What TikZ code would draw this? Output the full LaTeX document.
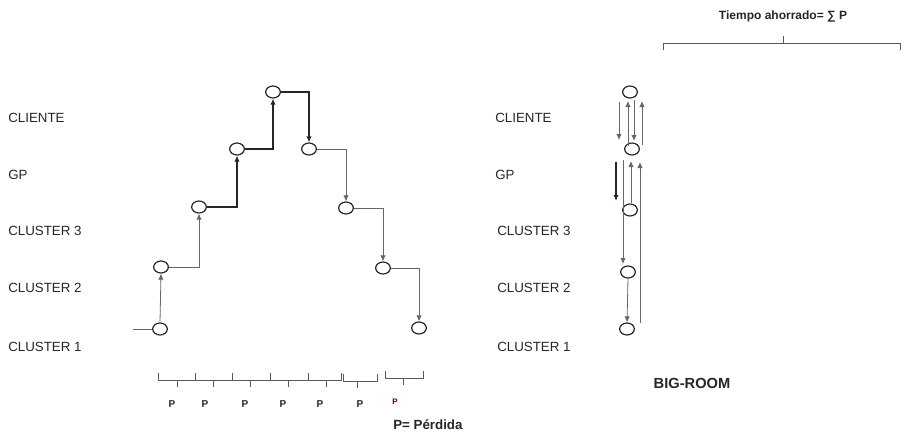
\documentclass[tikz,border=0pt]{standalone}
\usepackage{fontspec}
\setmainfont{Liberation Sans}
\usetikzlibrary{shapes.geometric,arrows.meta}
\begin{document}
\begin{tikzpicture}[x=0.75pt,y=-0.75pt,
  lbl/.style={anchor=west,inner sep=0pt,font=\fontsize{10}{12}\selectfont,text=black!85},
  stage/.style={ellipse,draw=black!85,line width=0.9pt,minimum width=11pt,minimum height=9pt,inner sep=0pt},
  thin/.style={draw=black!60,line width=0.6pt},
  thick/.style={draw=black!85,line width=1.1pt},
  arr/.style={-{Latex[length=4.5pt,width=4pt]}},
  brk/.style={draw=black!65,line width=0.6pt},
  plbl/.style={inner sep=0pt,font=\bfseries\fontsize{7.5}{9}\selectfont,text=black!85},
  bold/.style={inner sep=0pt,font=\bfseries\fontsize{10}{12}\selectfont,text=black!85}]
\useasboundingbox (0,0) rectangle (909,439);

% left labels
\node[lbl] (l1) at (8,118) {CLIENTE};
\node[lbl] (l2) at (8,175) {GP};
\node[lbl] (l3) at (8,231) {CLUSTER 3};
\node[lbl] (l4) at (8,288) {CLUSTER 2};
\node[lbl] (l5) at (8,347) {CLUSTER 1};
% right labels
\node[lbl] (rl1) at (495,118) {CLIENTE};
\node[lbl] (rl2) at (495,175) {GP};
\node[lbl] (rl3) at (497,231) {CLUSTER 3};
\node[lbl] (rl4) at (497,288) {CLUSTER 2};
\node[lbl] (rl5) at (497,347) {CLUSTER 1};

% left staircase
\node[stage] (c1) at (160,329) {};
\node[stage] (c2) at (161,267) {};
\node[stage] (c3) at (199,207) {};
\node[stage] (c4) at (237,149) {};
\node[stage] (c5) at (273,92) {};
\node[stage] (c6) at (309,149) {};
\node[stage] (c7) at (346,208) {};
\node[stage] (c8) at (383,268) {};
\node[stage] (c9) at (419,328) {};
\coordinate (s0) at (133,329);

\draw[thin] (s0) -- (c1.west);
\draw[thin,arr] (c1.north) -- (c2.south);
\draw[thin,arr] (c2.east) -| (c3.south);
\draw[thick,arr] (c3.east) -| (c4.south);
\draw[thick,arr] (c4.east) -| (c5.south);
\draw[thick,arr] (c5.east) -| (c6.north);
\draw[thin,arr] (c6.east) -| (c7.north);
\draw[thin,arr] (c7.east) -| (c8.north);
\draw[thin,arr] (c8.east) -| (c9.north);

% brackets under staircase
\foreach \a/\b/\m/\y in {158/195/177/380,195/232/213/380,232/270/250/380,270/308/288/380,308/341/326/380,343/377/357/381,385/423/403/378}{
  \draw[brk] (\a,\y-7) -- (\a,\y) -- (\b,\y) -- (\b,\y-7);
  \draw[brk] (\m,\y) -- (\m,\y+7);
}
\node[plbl] (p1) at (172,404) {P};
\node[plbl] (p2) at (205,404) {P};
\node[plbl] (p3) at (245,404) {P};
\node[plbl] (p4) at (283,404) {P};
\node[plbl] (p5) at (320,404) {P};
\node[plbl] (p6) at (360,404) {P};
\node[plbl,font=\bfseries\fontsize{6}{7}\selectfont,text=black!60!red] (p7) at (395,402) {P};
\node[bold,anchor=west] (leg) at (393,425) {P= Pérdida};

% right: big room
\node[stage] (r1) at (630,92) {};
\node[stage] (r2) at (632,149) {};
\node[stage] (r3) at (630,210) {};
\node[stage] (r4) at (628,272) {};
\node[stage] (r5) at (627,329) {};

\coordinate (a1) at (619,102); \coordinate (a2) at (619,140);
\coordinate (b1) at (628,146); \coordinate (b2) at (628,101);
\coordinate (d1) at (634,100); \coordinate (d2) at (634,141);
\coordinate (e1) at (642,145); \coordinate (e2) at (642,101);
\coordinate (f1) at (616,162); \coordinate (f2) at (616,201);
\coordinate (g1) at (623,160); \coordinate (g2) at (623,264);
\coordinate (h1) at (631,203); \coordinate (h2) at (631,161);
\coordinate (k1) at (640,323); \coordinate (k2) at (640,162);

\draw[thin,arr] (a1) -- (a2);
\draw[thin,arr] (b1) -- (b2);
\draw[thin,arr] (d1) -- (d2);
\draw[thin,arr] (e1) -- (e2);
\draw[thick,arr] (f1) -- (f2);
\draw[thin,arr] (g1) -- (g2);
\draw[thin,arr] (h1) -- (h2);
\draw[thin,arr] (k1) -- (k2);
\draw[thin,arr] (r4.south) -- (r5.north);

\node[bold,font=\bfseries\fontsize{11}{13}\selectfont] (big) at (692,383) {BIG-ROOM};

% top bracket
\node[bold,font=\bfseries\fontsize{9}{11}\selectfont] (tiempo) at (783,16) {Tiempo ahorrado= ∑ P};
\draw[brk] (663,50) -- (663,43) -- (900,43) -- (900,50);
\draw[brk] (783,43) -- (783,36);
\end{tikzpicture}
\end{document}
